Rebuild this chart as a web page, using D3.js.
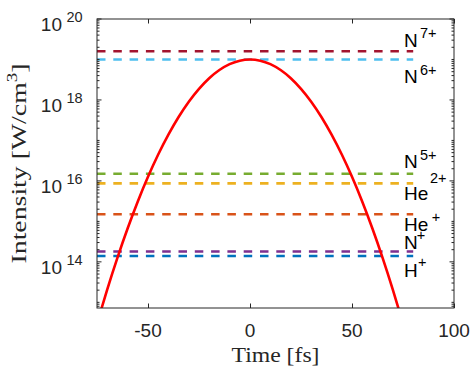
<!DOCTYPE html>
<html>
<head>
<meta charset="utf-8">
<script src="https://cdn.jsdelivr.net/npm/d3@7"></script>
<style>
  html, body { margin: 0; padding: 0; background: #fff; }
  svg { display: block; }
</style>
</head>
<body>
<svg id="chart" width="471" height="368"></svg>
<script>
// ---------------- data ----------------
const pulseTime = [-75, -70, -65, -60, -55, -50, -45, -40, -35, -30, -25, -20, -15, -10, -5, 0,
                   5, 10, 15, 20, 25, 30, 35, 40, 45, 50, 55, 60, 65, 70, 75];
const pulseIntensity = [3.0e12, 2.07e13, 1.26e14, 6.67e14, 3.10e15, 1.26e16, 4.48e16, 1.39e17, 3.79e17, 9.04e17,
                        1.88e18, 3.44e18, 5.48e18, 7.66e18, 9.35e18, 1.0e19,
                        9.35e18, 7.66e18, 5.48e18, 3.44e18, 1.88e18, 9.04e17, 3.79e17, 1.39e17, 4.48e16, 1.26e16,
                        3.10e15, 6.67e14, 1.26e14, 2.07e13, 3.0e12];

const ionNames   = ["N", "N", "N", "He", "He", "N", "H"];
const ionCharges = ["7+", "6+", "5+", "2+", "+", "+", "+"];
const ionThresholds = [1.6e19, 1.0e19, 1.5e16, 8.7e15, 1.5e15, 1.8e14, 1.4e14];
const thresholdTimeRange = [-75, 80];

const xTickValues = [-50, 0, 50, 100];
const yTickExponents = [14, 16, 18, 20];
const xDomain = [-75, 100];
const yDomain = [Math.pow(10, 12.86), 1e20];

// ---------------- styles / layout ----------------
const ionColors = ["#A2142F", "#4DBEEE", "#77AC30", "#EDB120", "#D95319", "#7E2F8E", "#0072BD"];
// label layout: baseline offset from line, superscript x position and baseline offset
const labelDy    = [-4.6, 23.6, -5.4, 16.7, 16.7, -3, 21];
const supX       = [420, 420, 420, 430, 431.7, 416.7, 418];
const supDy      = [-8.4, -8.3, -8.3, -16.7, -8.7, -8.3, -9.7];

const margin = { left: 97, right: 471 - 454, top: 19, bottom: 368 - 308 };
const W = 471, H = 368;
const axisColor = "#262626";
const sansFont = "'Liberation Sans', Arial, Helvetica, sans-serif";
const serifFont = "'Liberation Serif', 'Times New Roman', serif";

const svg = d3.select("#chart");

const x = d3.scaleLinear().domain(xDomain).range([margin.left, W - margin.right]);
const y = d3.scaleLog().domain(yDomain).range([H - margin.bottom, margin.top]);

const x0 = x.range()[0], x1 = x.range()[1];
const yb = y.range()[0], yt = y.range()[1];

svg.append("defs").append("clipPath").attr("id", "clip")
  .append("rect").attr("x", x0).attr("y", yt).attr("width", x1 - x0).attr("height", yb - yt);

// threshold dashed lines
const plot = svg.append("g").attr("clip-path", "url(#clip)");
ionThresholds.forEach((v, i) => {
  plot.append("line")
    .attr("x1", x(thresholdTimeRange[0])).attr("x2", x(thresholdTimeRange[1]))
    .attr("y1", y(v)).attr("y2", y(v))
    .attr("stroke", ionColors[i]).attr("stroke-width", 2.6)
    .attr("stroke-dasharray", "8.5,7.8");
});

// pulse curve
const pts = pulseTime.map((t, i) => [t, pulseIntensity[i]]);
plot.append("path")
  .attr("d", d3.line().x(d => x(d[0])).y(d => y(d[1])).curve(d3.curveNatural)(pts))
  .attr("fill", "none").attr("stroke", "#FF0000").attr("stroke-width", 2.6);

// axes box
const ax = svg.append("g").attr("stroke", axisColor).attr("stroke-width", 1).attr("fill", "none");
ax.append("rect").attr("x", x0).attr("y", yt).attr("width", x1 - x0).attr("height", yb - yt);

// x ticks (inward, top and bottom)
xTickValues.forEach(v => {
  const px = Math.round(x(v)) + 0.5;
  ax.append("line").attr("x1", px).attr("x2", px).attr("y1", yb).attr("y2", yb - 4.5);
  ax.append("line").attr("x1", px).attr("x2", px).attr("y1", yt).attr("y2", yt + 4.5);
});

// y ticks: major at labelled decades, minor at others
const lo = Math.floor(Math.log10(yDomain[0])), hi = Math.ceil(Math.log10(yDomain[1]));
for (let n = lo; n <= hi; n++) {
  for (let k = 1; k <= 9; k++) {
    const v = k * Math.pow(10, n);
    if (v < yDomain[0] * 0.999 || v > yDomain[1] * 1.001) continue;
    const major = (k === 1 && yTickExponents.includes(n));
    const len = major ? 4.5 : 2.5;
    const py = y(v);
    ax.append("line").attr("x1", x0).attr("x2", x0 + len).attr("y1", py).attr("y2", py);
    ax.append("line").attr("x1", x1).attr("x2", x1 - len).attr("y1", py).attr("y2", py);
  }
}

// x tick labels
svg.append("g").selectAll("text").data(xTickValues).join("text")
  .attr("x", d => x(d)).attr("y", 337)
  .attr("text-anchor", "middle")
  .attr("font-family", sansFont).attr("font-size", 19).attr("fill", axisColor)
  .text(d => d);

// y tick labels 10^n
const yl = svg.append("g").attr("font-family", sansFont).attr("fill", axisColor);
yTickExponents.forEach(n => {
  const py = y(Math.pow(10, n));
  yl.append("text").attr("x", 62).attr("y", py + 11.7).attr("text-anchor", "end")
    .attr("font-size", 19).text("10");
  yl.append("text").attr("x", 66.5).attr("y", py + 3.3).attr("text-anchor", "start")
    .attr("font-size", 14.5).text(n);
});

// ion labels
const lab = svg.append("g").attr("font-family", sansFont).attr("fill", "#000");
ionThresholds.forEach((v, i) => {
  const base = y(v) + labelDy[i];
  lab.append("text").attr("x", 404).attr("y", base).attr("font-size", 19).text(ionNames[i]);
  lab.append("text").attr("x", supX[i]).attr("y", base + supDy[i]).attr("font-size", 14.5).text(ionCharges[i]);
});

// axis titles
const xt = svg.append("text").attr("x", 275.5).attr("y", 361.7).attr("text-anchor", "middle")
  .attr("font-family", serifFont).attr("font-size", 22).attr("fill", axisColor)
  .attr("textLength", 88).attr("lengthAdjust", "spacingAndGlyphs")
  .text("Time [fs]");

const ytl = svg.append("text")
  .attr("transform", "translate(25.5,163.5) rotate(-90)")
  .attr("text-anchor", "middle")
  .attr("font-family", serifFont).attr("font-size", 22).attr("fill", axisColor)
  .attr("textLength", 200).attr("lengthAdjust", "spacingAndGlyphs");
ytl.append("tspan").text("Intensity [W/cm");
ytl.append("tspan").attr("font-size", 15).attr("dy", -9).text("3");
ytl.append("tspan").attr("dy", 9).text("]");
</script>
</body>
</html>
